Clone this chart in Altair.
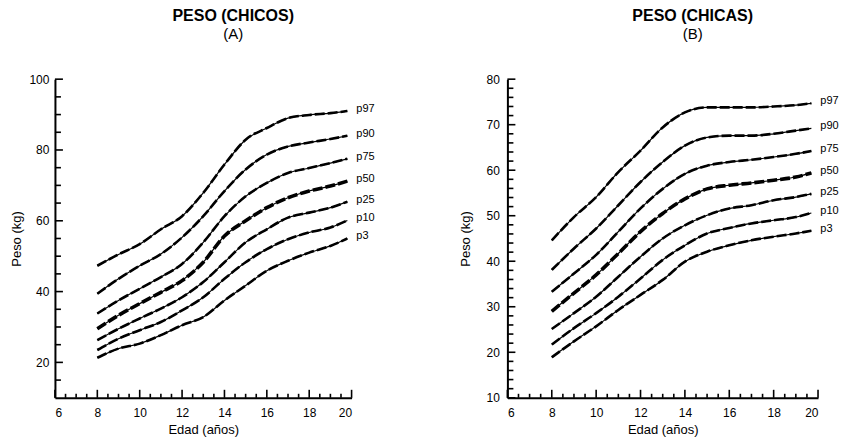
import altair as alt
import pandas as pd

percentiles = ["p97", "p90", "p75", "p50", "p25", "p10", "p3"]

# Boys (A)
boys_ages = [8, 9, 10, 11, 12, 13, 14, 15, 16, 17, 18, 19, 19.8]
boys_p97 = [47.3, 50.5, 53.4, 57.6, 61.3, 67.9, 75.9, 82.9, 86.2, 89.0, 89.9, 90.4, 91.0]
boys_p90 = [39.4, 43.6, 47.3, 50.6, 55.3, 61.3, 68.4, 74.5, 78.7, 81.0, 82.1, 83.1, 84.0]
boys_p75 = [33.8, 37.5, 40.8, 44.1, 47.8, 53.9, 61.3, 66.9, 70.7, 73.5, 74.9, 76.3, 77.5]
boys_p50 = [29.5, 33.3, 36.6, 39.8, 43.1, 48.3, 55.7, 60.0, 63.7, 66.5, 68.4, 69.8, 71.2]
boys_p25 = [26.3, 29.5, 32.4, 35.2, 38.4, 42.7, 48.3, 53.9, 57.6, 60.9, 62.3, 63.7, 65.4]
boys_p10 = [23.5, 26.7, 29.1, 31.4, 34.7, 38.4, 43.6, 48.3, 52.0, 54.8, 56.7, 58.1, 60.1]
boys_p3 = [21.3, 23.9, 25.3, 27.7, 30.5, 32.8, 37.5, 41.7, 45.9, 48.7, 51.0, 52.9, 55.0]

# Girls (B)
girls_ages = [8, 9, 10, 11, 12, 13, 14, 15, 16, 17, 18, 19, 19.7]
girls_p97 = [44.6, 49.7, 54.1, 59.6, 64.3, 69.4, 72.7, 73.8, 73.8, 73.8, 74.0, 74.3, 74.7]
girls_p90 = [38.1, 42.8, 47.2, 52.3, 57.4, 61.8, 65.4, 67.2, 67.6, 67.6, 68.0, 68.7, 69.2]
girls_p75 = [33.3, 37.3, 41.4, 46.5, 51.6, 55.9, 59.2, 61.0, 61.8, 62.3, 62.9, 63.6, 64.2]
girls_p50 = [29.0, 33.0, 37.0, 41.7, 46.5, 50.5, 53.7, 55.9, 56.7, 57.2, 57.8, 58.5, 59.4]
girls_p25 = [25.1, 28.6, 32.2, 36.6, 41.0, 45.0, 47.9, 50.1, 51.6, 52.3, 53.4, 54.1, 54.8]
girls_p10 = [21.7, 25.3, 28.6, 32.2, 36.2, 40.3, 43.5, 46.1, 47.3, 48.3, 49.0, 49.7, 50.6]
girls_p3 = [18.9, 22.4, 25.7, 29.3, 32.6, 35.9, 39.9, 42.1, 43.5, 44.6, 45.4, 46.1, 46.7]

# axis ticks
x_major = [6, 8, 10, 12, 14, 16, 18, 20]
x_minor = [6.5, 7, 7.5, 8.5, 9, 9.5, 10.5, 11, 11.5, 12.5, 13, 13.5, 14.5, 15, 15.5,
           16.5, 17, 17.5, 18.5, 19, 19.5]
boys_y_labels = [20, 40, 60, 80, 100]
boys_y_minor = [15, 25, 30, 35, 45, 50, 55, 65, 70, 75, 85, 90, 95]
girls_y_labels = [10, 20, 30, 40, 50, 60, 70, 80]
girls_y_minor = [12, 14, 16, 18, 22, 24, 26, 28, 32, 34, 36, 38, 42, 44, 46, 48,
                 52, 54, 56, 58, 62, 64, 66, 68, 72, 74, 76, 78]

FONT = "Liberation Sans"


def make_df(ages, series):
    rows = []
    for p, vals in zip(percentiles, series):
        for a, v in zip(ages, vals):
            rows.append({"pct": p, "age": a, "peso": v, "w": 3.6 if p == "p50" else 2.6})
    return pd.DataFrame(rows)


def panel(ages, series, ydom, ylabels, yminor, title, sub, W, H, lab_pad, tit_pad, dx):
    df = make_df(ages, series)
    lab = pd.DataFrame({"pct": percentiles, "age": [ages[-1]] * 7,
                        "peso": [s[-1] for s in series]})
    xs = alt.Scale(domain=[6, 20], nice=False, zero=False)
    ys = alt.Scale(domain=ydom, nice=False, zero=False)
    xax = alt.Axis(values=x_major, ticks=False, grid=False, labelPadding=10,
                   titlePadding=5, domainWidth=2, domainColor="black",
                   labelFontSize=12, titleFontSize=13, format="d")
    yax = alt.Axis(values=ylabels, ticks=False, grid=False, labelPadding=lab_pad,
                   titlePadding=tit_pad, domainWidth=2, domainColor="black",
                   labelFontSize=12, titleFontSize=13, format="d")
    X = lambda f: alt.X(f, scale=xs, axis=xax, title="Edad (años)")
    Y = lambda f: alt.Y(f, scale=ys, axis=yax, title="Peso (kg)")
    base = alt.Chart(df)
    thin = base.mark_line(color="black", interpolate="monotone").encode(
        x=X("age:Q"), y=Y("peso:Q"), detail="pct:N", strokeWidth=alt.value(1.2),
    )
    thick = base.mark_line(color="black", interpolate="monotone",
                           strokeDash=[10, 3]).encode(
        x=X("age:Q"), y=Y("peso:Q"), detail="pct:N",
        strokeWidth=alt.StrokeWidth("w:Q", scale=None),
    )
    labels = alt.Chart(lab).mark_text(align="left", baseline="middle", dx=9, dy=-2,
                                      fontSize=11, font=FONT, color="black").encode(
        x=X("age:Q"), y=Y("peso:Q"), text="pct:N",
    )
    xt_major = alt.Chart(pd.DataFrame({"v": x_major})).mark_rule(
        color="black", strokeWidth=1.6).encode(
        x=X("v:Q"), y=alt.value(H), y2=alt.value(H - 8))
    xt_minor = alt.Chart(pd.DataFrame({"v": x_minor})).mark_rule(
        color="black", strokeWidth=1.6).encode(
        x=X("v:Q"), y=alt.value(H), y2=alt.value(H - 4))
    yt_major = alt.Chart(pd.DataFrame({"v": ylabels})).mark_rule(
        color="black", strokeWidth=1.6).encode(
        y=Y("v:Q"), x=alt.value(0), x2=alt.value(8))
    yt_minor = alt.Chart(pd.DataFrame({"v": yminor})).mark_rule(
        color="black", strokeWidth=1.6).encode(
        y=Y("v:Q"), x=alt.value(0), x2=alt.value(6))
    return alt.layer(thin, thick, labels, xt_major, xt_minor, yt_major, yt_minor).properties(
        width=W, height=H,
        title=alt.TitleParams(text=title, subtitle=sub, fontSize=16, fontWeight="bold",
                              font=FONT, subtitleFont=FONT, subtitleFontSize=15,
                              subtitleColor="black", color="black", anchor="middle",
                              frame="group", dx=dx, offset=31, subtitlePadding=3),
    )


left = panel(boys_ages, [boys_p97, boys_p90, boys_p75, boys_p50, boys_p25, boys_p10, boys_p3],
             [10, 100], boys_y_labels, boys_y_minor, "PESO (CHICOS)", "(A)", 297, 319, 6, 5, 30)
right = panel(girls_ages, [girls_p97, girls_p90, girls_p75, girls_p50, girls_p25, girls_p10, girls_p3],
              [10, 80], girls_y_labels, girls_y_minor, "PESO (CHICAS)", "(B)", 311, 319, 8, 14, 30)

chart = alt.hconcat(left, right, spacing=83).properties(
    padding={"left": 2, "top": 0, "right": 0, "bottom": 0}
).configure_axis(
    labelFont=FONT, titleFont=FONT, labelColor="black", titleColor="black",
    titleFontWeight="normal",
).configure_view(stroke=None)

chart.save("out.html", embed_options={"renderer": "svg", "actions": False})
